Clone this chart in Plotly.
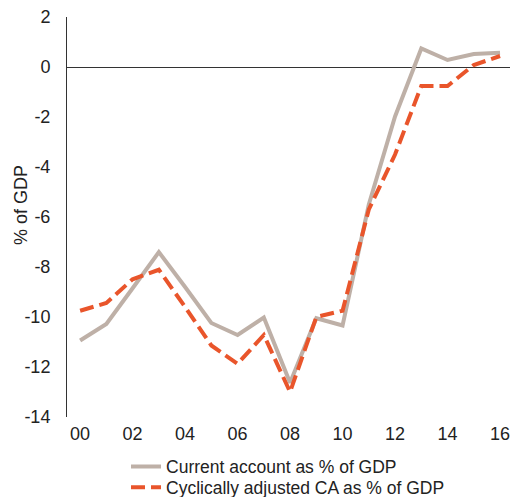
import plotly.graph_objects as go

years = list(range(2000, 2017))
current_account = [-10.94, -10.28, -8.85, -7.40, -8.80, -10.24, -10.72, -10.02, -12.63,
                   -10.05, -10.34, -5.5, -1.98, 0.74, 0.28, 0.52, 0.57]
cyclically_adjusted = [-9.75, -9.44, -8.49, -8.11, -9.6, -11.14, -11.87, -10.72, -13.0,
                       -10.0, -9.75, -5.7, -3.5, -0.76, -0.76, 0.08, 0.44]
x_tick_vals = list(range(2000, 2017, 2))
x_tick_text = ["00", "02", "04", "06", "08", "10", "12", "14", "16"]
y_tick_vals = list(range(-14, 3, 2))
y_tick_text = [str(v) for v in y_tick_vals]
y_title = "% of GDP"

FONT = "Liberation Sans, Arial, sans-serif"
FS = 18
LFS = 17.5

fig = go.Figure()
fig.add_trace(go.Scatter(
    x=years, y=current_account, mode="lines",
    name="Current account as % of GDP",
    line=dict(color="#BEB0A7", width=4),
    legend="legend",
))
fig.add_trace(go.Scatter(
    x=years, y=cyclically_adjusted, mode="lines",
    name="Cyclically adjusted CA as % of GDP",
    line=dict(color="#E9552B", width=4, dash="14px,6px"),
    legend="legend2",
))

legend_common = dict(
    x=0.1332, xanchor="left", yanchor="top",
    bgcolor="rgba(0,0,0,0)",
    font=dict(size=LFS, color="#222222"),
)

fig.update_layout(
    width=510, height=497,
    margin=dict(l=67, r=0, t=17, b=80, autoexpand=False),
    paper_bgcolor="white", plot_bgcolor="white",
    font=dict(family=FONT, size=FS, color="#222222"),
    showlegend=True,
    legend=dict(y=-0.079, **legend_common),
    legend2=dict(y=-0.131, **legend_common),
    xaxis=dict(
        range=[1999.5, 2016.38],
        tickvals=x_tick_vals, ticktext=x_tick_text,
        showgrid=False, zeroline=False, showline=False,
        ticks="", tickfont=dict(size=FS),
        ticklabelstandoff=4, automargin=False,
        ticklabeloverflow="allow",
    ),
    yaxis=dict(
        range=[-14, 2],
        tickvals=y_tick_vals, ticktext=y_tick_text,
        showgrid=False,
        zeroline=True, zerolinecolor="#333333", zerolinewidth=1,
        showline=True, linecolor="#333333", linewidth=1,
        ticks="", tickfont=dict(size=FS),
        ticklabelstandoff=12, automargin=False,
        ticklabeloverflow="allow",
    ),
    annotations=[dict(
        text=y_title, textangle=-90, showarrow=False,
        xref="paper", yref="paper",
        x=(21 - 67) / 443, y=(417 - 205) / 400,
        xanchor="center", yanchor="middle",
        font=dict(size=FS, color="#222222"),
    )],
)

fig.write_html(
    "out.html",
    config={"displayModeBar": False},
    post_script="document.body.style.margin='0';document.body.style.overflow='hidden';",
)
